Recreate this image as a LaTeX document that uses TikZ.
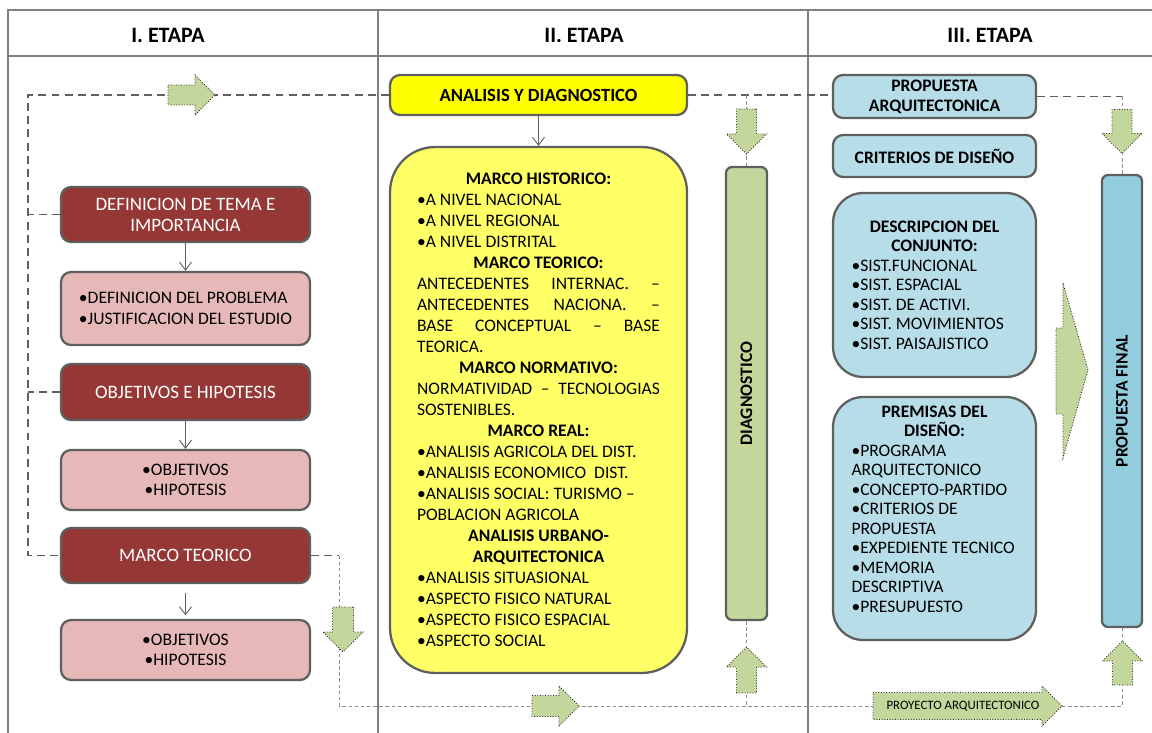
\documentclass[tikz,border=0pt]{standalone}
\usepackage{fontspec}
\setmainfont{Carlito}
\usepackage{graphicx}
\usetikzlibrary{arrows.meta, positioning, calc}
\definecolor{RojoTema}{HTML}{953735}
\definecolor{RosaDet}{HTML}{E6B9B8}
\definecolor{AmarFuerte}{HTML}{FFFF00}
\definecolor{AmarClaro}{HTML}{FFFF66}
\definecolor{VerdeFl}{HTML}{C3D69B}
\definecolor{Celeste}{HTML}{B7DEE8}
\definecolor{AzulFin}{HTML}{93CDDD}
\definecolor{Borde}{HTML}{5F5F5F}
\definecolor{Rejilla}{HTML}{808080}

\tikzset{
  verdefl/.style={draw=black!85, densely dotted, line width=0.5pt, fill=VerdeFl},
  pics/flecha/.style 2 args={code={
    \draw[verdefl] (-#1,-#2) -- (#1-20,-#2) -- (#1-20,-20) -- (#1,0)
      -- (#1-20,20) -- (#1-20,#2) -- (-#1,#2) -- cycle;}},
}

\begin{document}
\begin{tikzpicture}[
        x=0.02cm, y=-0.02cm, font=\fontsize{10}{11.7}\selectfont,
        caja/.style={draw=Borde, line width=1.3pt, rounded corners=2mm,
                     align=center, inner sep=2pt},
        tema/.style={caja, fill=RojoTema, text=white, minimum width=4.98cm,
                     minimum height=1.1cm, font=\fontsize{10.8}{12}\selectfont},
        detalle/.style={caja, fill=RosaDet, minimum width=4.98cm},
        celeste/.style={caja, fill=Celeste, minimum width=4.06cm},
        lista/.style={celeste, rounded corners=0.6cm, text width=3.32cm,
                      align=flush left, font=\fontsize{10}{11.1}\selectfont},
        negrita/.style={font=\fontsize{10}{11.5}\selectfont\bfseries},
        lazo/.style={draw=Borde, line width=0.8pt, dash pattern=on 4.5pt off 3pt},
        guion/.style={draw=black!45, line width=0.5pt, dash pattern=on 2pt off 1.5pt},
        flechita/.style={draw=Borde, line width=0.5pt,
                         -{Straight Barb[length=1.6mm, width=2.4mm]}},
        titulo/.style={font=\fontsize{12.5}{14}\selectfont\bfseries},
        tabla/.style={draw=Rejilla, line width=0.7pt},
      ]
        \useasboundingbox (0,0) rectangle (1152,733);
        % tabla de etapas
        \draw[tabla] (8,733) -- (8,10) -- (1152,10);
        \draw[tabla] (8,56) -- (1152,56);
        \draw[tabla] (378,10) -- (378,733);
        \draw[tabla] (808,10) -- (808,733);
        \node[titulo] (e1) at (168,35) {I. ETAPA};
        \node[titulo] (e2) at (584,35) {II. ETAPA};
        \node[titulo] (e3) at (990,35) {III. ETAPA};

        % I. ETAPA
        \node[tema] (def) at (185.5,214.5) {DEFINICION DE TEMA E\\IMPORTANCIA};
        \node[detalle, minimum height=1.46cm, align=left] (prob) at (185.5,308.5)
          {•DEFINICION DEL PROBLEMA\\•JUSTIFICACION DEL ESTUDIO};
        \node[tema, minimum height=1.12cm] (obj) at (185.5,392) {OBJETIVOS E HIPOTESIS};
        \node[detalle, minimum height=1.2cm] (objl) at (185.5,480) {•OBJETIVOS\\•HIPOTESIS};
        \node[tema] (marco) at (185.5,555.5) {MARCO TEORICO};
        \node[detalle, minimum height=1.2cm] (objm) at (185.5,650) {•OBJETIVOS\\•HIPOTESIS};
        \draw[flechita] (def) -- (prob);
        \draw[flechita] (obj) -- (objl);
        \draw[flechita, shorten <=5pt, shorten >=2pt] (marco) -- (objm);

        % II. ETAPA
        \node[caja, fill=AmarFuerte, minimum width=5.94cm, minimum height=0.8cm,
              font=\fontsize{10.6}{12}\selectfont\bfseries]
          (anal) at (538.5,95) {ANALISIS Y DIAGNOSTICO};
        \node[caja, fill=AmarClaro, rounded corners=0.9cm, minimum width=5.94cm,
              minimum height=10.52cm, text width=4.86cm, align=justify,
              font=\fontsize{10}{11.95}\selectfont]
          (marcos) at (538.5,410) {%
          {\centering\bfseries MARCO HISTORICO:\par}
          •A NIVEL NACIONAL\par
          •A NIVEL REGIONAL\par
          •A NIVEL DISTRITAL\par
          {\centering\bfseries MARCO TEORICO:\par}
          ANTECEDENTES INTERNAC. –\linebreak ANTECEDENTES NACIONA. –\linebreak
          BASE CONCEPTUAL – BASE\linebreak TEORICA.\par
          {\centering\bfseries MARCO NORMATIVO:\par}
          NORMATIVIDAD – TECNOLOGIAS\linebreak SOSTENIBLES.\par
          {\centering\bfseries MARCO REAL:\par}
          •ANALISIS AGRICOLA DEL DIST.\par
          •ANALISIS ECONOMICO~ DIST.\par
          •ANALISIS SOCIAL: TURISMO –\\POBLACION AGRICOLA\par
          {\centering\bfseries ANALISIS URBANO-\\ARQUITECTONICA\par}
          •ANALISIS SITUASIONAL\par
          •ASPECTO FISICO NATURAL\par
          •ASPECTO FISICO ESPACIAL\par
          •ASPECTO SOCIAL\par};
        \node[caja, fill=VerdeFl, rounded corners=1.2mm, minimum width=0.82cm,
              minimum height=9.06cm] (diag) at (746.5,393.5)
          {\rotatebox{90}{\bfseries DIAGNOSTICO}};
        \draw[flechita] (anal) -- (marcos);

        % III. ETAPA
        \node[celeste, negrita, minimum height=0.86cm] (propA) at (934.5,96.5)
          {PROPUESTA\\ARQUITECTONICA};
        \node[celeste, negrita, minimum height=0.84cm] (crit) at (934.5,156)
          {CRITERIOS DE DISEÑO};
        \node[lista, minimum height=3.68cm] (desc) at (934.5,285) {%
          {\centering\bfseries DESCRIPCION DEL\\CONJUNTO:\par}
          •SIST.FUNCIONAL\\•SIST. ESPACIAL\\•SIST. DE ACTIVI.\\•SIST. MOVIMIENTOS\\%
          •SIST. PAISAJISTICO};
        \node[lista, minimum height=4.86cm] (prem) at (934.5,518.5) {%
          {\centering\bfseries PREMISAS DEL\\DISEÑO:\par}
          •PROGRAMA\\ARQUITECTONICO\\•CONCEPTO-PARTIDO\\•CRITERIOS DE\\PROPUESTA\\%
          •EXPEDIENTE TECNICO\\•MEMORIA\\DESCRIPTIVA\\•PRESUPUESTO\par\mbox{}};
        \node[caja, fill=AzulFin, rounded corners=1.2mm, minimum width=0.8cm,
              minimum height=9.04cm] (final) at (1122,401)
          {\rotatebox{90}{\bfseries PROPUESTA FINAL}};

        % recorridos punteados
        \coordinate (esq) at (28,95);
        \draw[lazo] (anal.west) -- (anal.west -| esq) |- (marco.west);
        \draw[lazo] (def.west) -- (def.west -| esq);
        \draw[lazo] (obj.west) -- (obj.west -| esq);
        \draw[lazo] (anal.east) -- (anal.east -| propA.west);
        \draw[lazo] (propA.east) -- (propA.east -| final);
        \draw[guion] (propA.east -| final) -- (final.north);
        \draw[guion] (anal.east -| diag) -- (diag.north);
        \draw[lazo] (marco.east) -- ++(28,0) coordinate (codo);
        \coordinate (bajo) at (1122,706);
        \draw[guion] (codo) |- (bajo) -- (final.south);
        \draw[guion] (diag.south) -- (diag.south |- bajo);

        % flechas verdes
        \pic at (191.5,95) {flecha={23.5}{10}};
        \pic[rotate=-90] at (746.5,131.5) {flecha={22.5}{10}};
        \pic[rotate=-90] at (343,629.5) {flecha={22.5}{10.5}};
        \pic at (555.5,706) {flecha={23.5}{10.5}};
        \pic[rotate=90] at (746.5,670) {flecha={23}{10}};
        \pic at (967.5,706) {flecha={94.5}{13.5}};
        \node[font=\fontsize{7.3}{8}\selectfont] (proy) at (963,706.5) {PROYECTO ARQUITECTONICO};
        \pic[rotate=-90] at (1122,131.5) {flecha={22}{10}};
        \pic[rotate=90] at (1122.5,663) {flecha={22}{10}};
        \draw[verdefl] (1063,283) -- (1088,370) -- (1063,458) -- (1063,414)
          -- (1056,414) -- (1056,328) -- (1063,328) -- cycle;
      \end{tikzpicture}
\end{document}
